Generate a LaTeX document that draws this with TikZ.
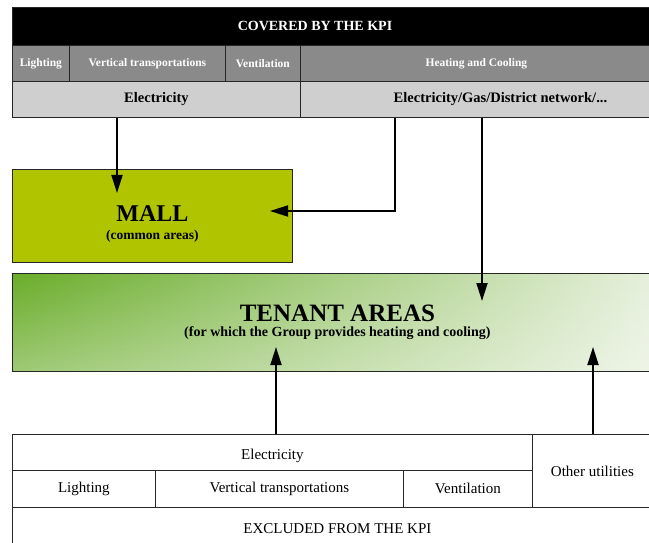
\documentclass[tikz,border=0pt]{standalone}
\usepackage{fontspec}
\setmainfont{Liberation Serif}
\usetikzlibrary{arrows.meta,fadings}

\definecolor{rowgray}{HTML}{8A8A8A}
\definecolor{cellgray}{HTML}{CFCFCF}
\definecolor{mallgreen}{HTML}{B0C400}
\definecolor{tenantgreen}{HTML}{6AAD2A}
\definecolor{tenantpale}{HTML}{E8F1DF}

\begin{document}
\begin{tikzpicture}[x=1pt, y=-1pt,
  cell/.style={draw=black!85, line width=0.8pt, anchor=north west, inner sep=0pt, minimum height=#1},
  cell/.default=36pt,
  toprow/.style={cell, fill=rowgray, text=white, font=\bfseries\fontsize{11.5}{13}\selectfont},
  midrow/.style={cell, fill=cellgray, font=\bfseries\fontsize{14.5}{16}\selectfont},
  lowrow/.style={cell=#1, fill=white, font=\fontsize{15}{17}\selectfont},
  lowrow/.default=36pt,
  arr/.style={-{Triangle[length=18pt, width=11pt]}, line width=1.8pt}]
\useasboundingbox (0,0) rectangle (649,543);
\clip (0,0) rectangle (649,543);

% covered by the KPI
\node[cell=38pt, fill=black, minimum width=660pt] (kpi) at (12,7) {};
\node[text=white, font=\bfseries\fontsize{14}{16}\selectfont] (kpitext) at (315,26) {COVERED BY THE KPI};
\foreach \name/\x/\w/\txt in {lig/12/57/Lighting, vt/69/156/Vertical transportations,
    ven/225/75/Ventilation, hc/300/352/Heating and Cooling}
  \node[toprow, minimum width=\w pt] (\name) at (\x,45) {\txt};
\node[midrow, minimum width=288pt] (elec) at (12,81) {Electricity};
\node[midrow, minimum width=400pt] (energy) at (300,81) {Electricity/Gas/District network/...};

% areas
\node[cell=93pt, fill=mallgreen, minimum width=280pt, align=center] (mall) at (12,169)
  {\rule{0pt}{32pt}\fontsize{24}{26}\selectfont\bfseries MALL\\[6pt] \fontsize{13.5}{14}\selectfont\bfseries (common areas)};
\node[cell=98pt, minimum width=650pt, left color=tenantgreen, right color=tenantpale, align=center,
  path picture={\fill[white, path fading=north, opacity=.35] (path picture bounding box.south west) rectangle (path picture bounding box.north east);}]
  (tenant) at (12,273)
  {\fontsize{25}{27}\selectfont\bfseries TENANT AREAS\\[3pt] \fontsize{14}{15}\selectfont\bfseries (for which the Group provides heating and cooling)};

% excluded from the KPI
\node[lowrow, minimum width=520pt] (belec) at (12,434) {\rule{0pt}{17pt}Electricity};
\node[lowrow=37pt, minimum width=143pt] (blig) at (12,470) {Lighting};
\node[lowrow=37pt, minimum width=248pt] (bvt) at (155,470) {Vertical transportations};
\node[lowrow=37pt, minimum width=129pt] (bven) at (403,470) {Ventilation};
\node[lowrow=73pt, minimum width=120pt] (other) at (532,434) {Other utilities};
\node[lowrow=42pt, minimum width=650pt] (excl) at (12,507) {EXCLUDED FROM THE KPI};

% arrows
\coordinate (mallin) at (117,193);
\coordinate (mallside) at (270,211);
\coordinate (gasturn) at (395,211);
\coordinate (tenantin) at (482,301);
\coordinate (tenantup) at (276,347);
\coordinate (otherup) at (593,347);
\draw[arr] (elec.south -| mallin) -- (mallin);
\draw[arr] (energy.south -| gasturn) -- (gasturn) -- (mallside);
\draw[arr] (energy.south -| tenantin) -- (tenantin);
\draw[arr] (belec.north -| tenantup) -- (tenantup);
\draw[arr] (other.north -| otherup) -- (otherup);
\end{tikzpicture}
\end{document}
